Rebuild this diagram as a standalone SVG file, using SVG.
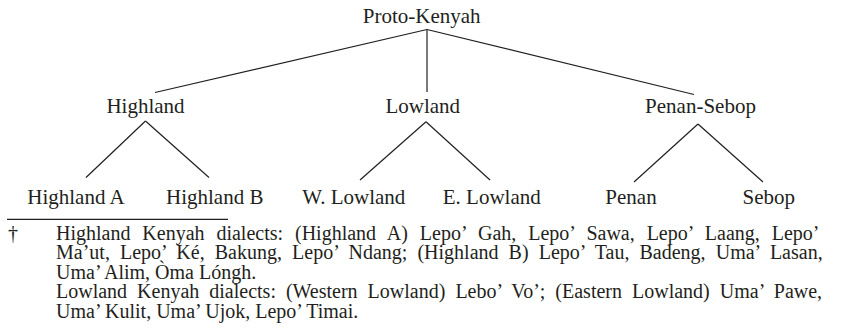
<svg xmlns="http://www.w3.org/2000/svg" width="842" height="329" viewBox="0 0 842 329">
<style>
  text { font-family: "Liberation Serif", Tinos, "Times New Roman", "Nimbus Roman", "Nimbus Roman No9 L", "Noto Serif", "DejaVu Serif", FreeSerif, Times, serif; fill: #231f20; }
  .node { font-size: 21px; text-anchor: middle; }
  .fn { font-size: 20px; }
  .edge { stroke: #231f20; stroke-width: 1.2; fill: none; }
</style>
<rect width="842" height="329" fill="#ffffff"/>
<g id="connectors">
  <line class="edge" x1="427" y1="29.5" x2="155" y2="92.5"/>
  <line class="edge" x1="427" y1="29.5" x2="427" y2="92"/>
  <line class="edge" x1="427" y1="29.5" x2="694" y2="94.5"/>
  <line class="edge" x1="145.5" y1="121" x2="86" y2="177.5"/>
  <line class="edge" x1="145.5" y1="121" x2="209" y2="177.5"/>
  <line class="edge" x1="426" y1="121.7" x2="360" y2="180"/>
  <line class="edge" x1="426" y1="121.7" x2="490" y2="180"/>
  <line class="edge" x1="698" y1="124" x2="634" y2="182"/>
  <line class="edge" x1="698" y1="124" x2="763" y2="182"/>
</g>
<g id="proto-kenyah"><text class="node" x="421.7" y="23.3">Proto-Kenyah</text></g>
<g id="highland"><text class="node" x="145.5" y="113.3">Highland</text></g>
<g id="lowland"><text class="node" x="422.8" y="113.3">Lowland</text></g>
<g id="penan-sebop"><text class="node" x="700.5" y="113.3">Penan-Sebop</text></g>
<g id="highland-a"><text class="node" x="76" y="204.3">Highland A</text></g>
<g id="highland-b"><text class="node" x="214.7" y="204.3">Highland B</text></g>
<g id="w-lowland"><text class="node" x="353.8" y="204.3">W. Lowland</text></g>
<g id="e-lowland"><text class="node" x="491.8" y="204.3">E. Lowland</text></g>
<g id="penan"><text class="node" x="631" y="204.3">Penan</text></g>
<g id="sebop"><text class="node" x="768.8" y="204.3">Sebop</text></g>
<g id="footnote">
  <line x1="7" y1="219.3" x2="228" y2="219.3" stroke="#231f20" stroke-width="1.2"/>
  <text class="fn" x="8" y="240.3">†</text>
  <text class="fn" x="56" y="240.3" word-spacing="6.9">Highland Kenyah dialects: (Highland A) Lepo’ Gah, Lepo’ Sawa, Lepo’ Laang, Lepo’</text>
  <text class="fn" x="56" y="259.3" word-spacing="5.1">Ma’ut, Lepo’ Ké, Bakung, Lepo’ Ndang; (Highland B) Lepo’ Tau, Badeng, Uma’ Lasan,</text>
  <text class="fn" x="56" y="278.7">Uma’ Alim, Òma Lóngh.</text>
  <text class="fn" x="56" y="298" word-spacing="5">Lowland Kenyah dialects: (Western Lowland) Lebo’ Vo’; (Eastern Lowland) Uma’ Pawe,</text>
  <text class="fn" x="56" y="317.7">Uma’ Kulit, Uma’ Ujok, Lepo’ Timai.</text>
</g>
</svg>
